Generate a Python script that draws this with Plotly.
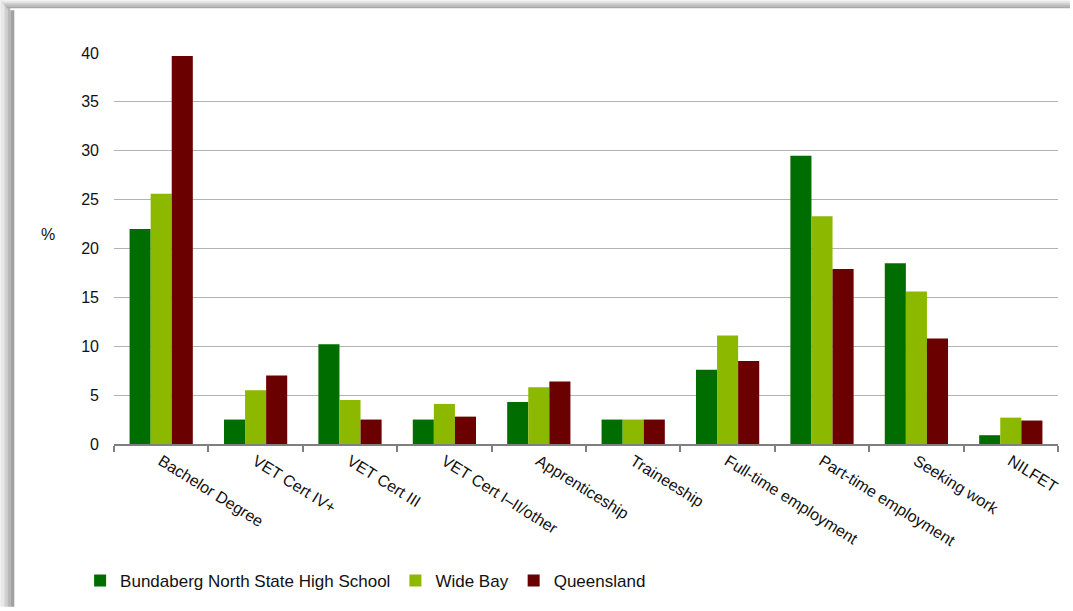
import plotly.graph_objects as go

categories = ["Bachelor Degree", "VET Cert IV+", "VET Cert III", "VET Cert I\u2013II/other",
              "Apprenticeship", "Traineeship", "Full-time employment",
              "Part-time employment", "Seeking work", "NILFET"]
school = [22.0, 2.5, 10.2, 2.5, 4.3, 2.5, 7.6, 29.5, 18.5, 0.9]
wide_bay = [25.6, 5.5, 4.5, 4.1, 5.8, 2.5, 11.1, 23.3, 15.6, 2.7]
queensland = [39.7, 7.0, 2.5, 2.8, 6.4, 2.5, 8.5, 17.9, 10.8, 2.4]
series_names = ["Bundaberg North State High School", "Wide Bay", "Queensland"]
y_ticks = [0, 5, 10, 15, 20, 25, 30, 35, 40]

W, H = 1073, 611
L, R, T, B = 114, 12, 53, 164
pw, ph = W - L - R, H - T - B

def px(x):
    return (x - L) / pw

def py(y):
    return (H - B - y) / ph

FONT = "Liberation Sans, Arial, sans-serif"
colors = ["#006d00", "#8cb800", "#6a0000"]

fig = go.Figure()
for name, vals, c in zip(series_names, [school, wide_bay, queensland], colors):
    fig.add_trace(go.Bar(name=name, x=categories, y=vals, marker=dict(color=c, line=dict(width=0))))

shapes = []
# frame shadow: left band and top band
lefts = [("#e8e8e8", 0, 4), ("#d0d0d0", 4, 7), ("#b8b8b8", 7, 10), ("#a2a2a2", 10, 14)]
for col, a, b in lefts:
    shapes.append(dict(type="rect", xref="paper", yref="paper", x0=px(a), x1=px(b),
                       y0=py(H), y1=py(a), fillcolor=col, line=dict(width=0), layer="below"))
tops = [("#e8e8e8", 0, 2), ("#d2d2d2", 2, 4), ("#bdbdbd", 4, 6), ("#a8a8a8", 6, 8)]
for col, a, b in tops:
    shapes.append(dict(type="rect", xref="paper", yref="paper", x0=px(a), x1=px(W),
                       y0=py(b), y1=py(a), fillcolor=col, line=dict(width=0), layer="below"))

fig.update_layout(
    width=W, height=H,
    margin=dict(l=L, r=R, t=T, b=B),
    paper_bgcolor="white", plot_bgcolor="white",
    barmode="group", bargap=0.33, bargroupgap=0,
    font=dict(family=FONT, size=16, color="#111111"),
    shapes=shapes,
    showlegend=True,
    legend=dict(orientation="h", x=px(80), xanchor="left", y=py(585), yanchor="middle",
                font=dict(family=FONT, size=17, color="#111111"), bgcolor="rgba(0,0,0,0)",
                itemwidth=30, traceorder="normal"),
    xaxis=dict(type="category", tickangle=32, showgrid=False, showline=True,
               linecolor="#7f7f7f", linewidth=1.5, ticks="outside", tickson="boundaries",
               ticklen=6, tickcolor="#7f7f7f", tickwidth=1.5,
               tickfont=dict(family=FONT, size=16, color="#111111")),
    yaxis=dict(range=[0, 40], tickvals=y_ticks, showgrid=True, gridcolor="#b3b3b3",
               gridwidth=1.3, showline=False, zeroline=False, ticks="",
               ticklabelstandoff=14,
               tickfont=dict(family=FONT, size=16, color="#111111")),
    annotations=[dict(text="%", xref="paper", yref="paper", x=px(39), y=py(236),
                      showarrow=False, font=dict(family=FONT, size=16, color="#111111"))],
)

fig.write_html("out.html", config={"displayModeBar": False},
               post_script="document.body.style.margin='0px';document.body.style.overflow='hidden';")
